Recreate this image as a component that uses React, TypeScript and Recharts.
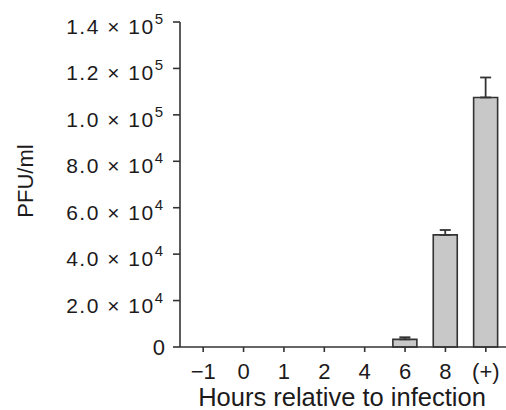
import { BarChart, Bar, XAxis, YAxis, ErrorBar, Label } from "recharts";

const hours = ["\u22121", "0", "1", "2", "4", "6", "8", "(+)"];
const pfu = [0, 0, 0, 0, 0, 3300, 48300, 107500];
const pfuErr = [0, 0, 0, 0, 0, 900, 2100, 8600];
const yTicks = [0, 20000, 40000, 60000, 80000, 100000, 120000, 140000];

const data = hours.map((h, i) => ({ hour: h, pfu: pfu[i], err: [0, pfuErr[i]] }));

const FONT = "'Liberation Sans', Arial, Helvetica, sans-serif";
const INK = "#1c1a1b";

const YTick = (props: any) => {
  const { x, y, payload } = props;
  const v = payload.value as number;
  if (v === 0) {
    return (
      <text x={x - 8} y={y + 8} textAnchor="end" fontSize={22} fontFamily={FONT} fill={INK}>
        0
      </text>
    );
  }
  const exp = Math.floor(Math.log10(v));
  const mant = (v / Math.pow(10, exp)).toFixed(1);
  return (
    <text x={x - 10} y={y + 12} textAnchor="end" fontSize={21} fontFamily={FONT} fill={INK} letterSpacing={1.5}>
      {mant} × 10
      <tspan dy={-10} fontSize={15} letterSpacing={0}>
        {exp}
      </tspan>
    </text>
  );
};

const XTick = (props: any) => {
  const { x, y, payload } = props;
  return (
    <text x={x} y={y + 27} textAnchor="middle" fontSize={22} fontFamily={FONT} fill={INK}>
      {payload.value}
    </text>
  );
};

export default function App() {
  return (
    <div style={{ position: "absolute", left: 0, top: 0, background: "#fff" }}>
      <BarChart
        width={506}
        height={410}
        data={data}
        margin={{ top: 22, right: 0, left: 0, bottom: 0 }}
        barSize={24}
      >
        <XAxis
          dataKey="hour"
          height={63}
          padding={{ left: 3, right: 0 }}
          tickSize={5}
          tickMargin={0}
          tick={<XTick />}
          axisLine={{ stroke: "#333", strokeWidth: 1.6 }}
          tickLine={{ stroke: "#333", strokeWidth: 1.6 }}
        >
          <Label
            content={() => (
              <text x={342} y={406} textAnchor="middle" fontSize={25.5} fontFamily={FONT} fill={INK}>
                Hours relative to infection
              </text>
            )}
          />
        </XAxis>
        <YAxis
          width={180}
          domain={[0, 140000]}
          ticks={yTicks}
          interval={0}
          tickSize={7}
          tickMargin={0}
          tick={<YTick />}
          axisLine={{ stroke: "#333", strokeWidth: 1.6 }}
          tickLine={{ stroke: "#333", strokeWidth: 1.6 }}
        >
          <Label
            content={() => (
              <text
                transform="translate(33,181) rotate(-90)"
                textAnchor="middle"
                fontSize={22}
                fontFamily={FONT}
                fill={INK}
              >
                PFU/ml
              </text>
            )}
          />
        </YAxis>
        <Bar dataKey="pfu" fill="#c8c8c8" stroke="#333" strokeWidth={1.6} isAnimationActive={false}>
          <ErrorBar dataKey="err" direction="y" width={5.5} stroke="#333" strokeWidth={1.8} />
        </Bar>
      </BarChart>
    </div>
  );
}
